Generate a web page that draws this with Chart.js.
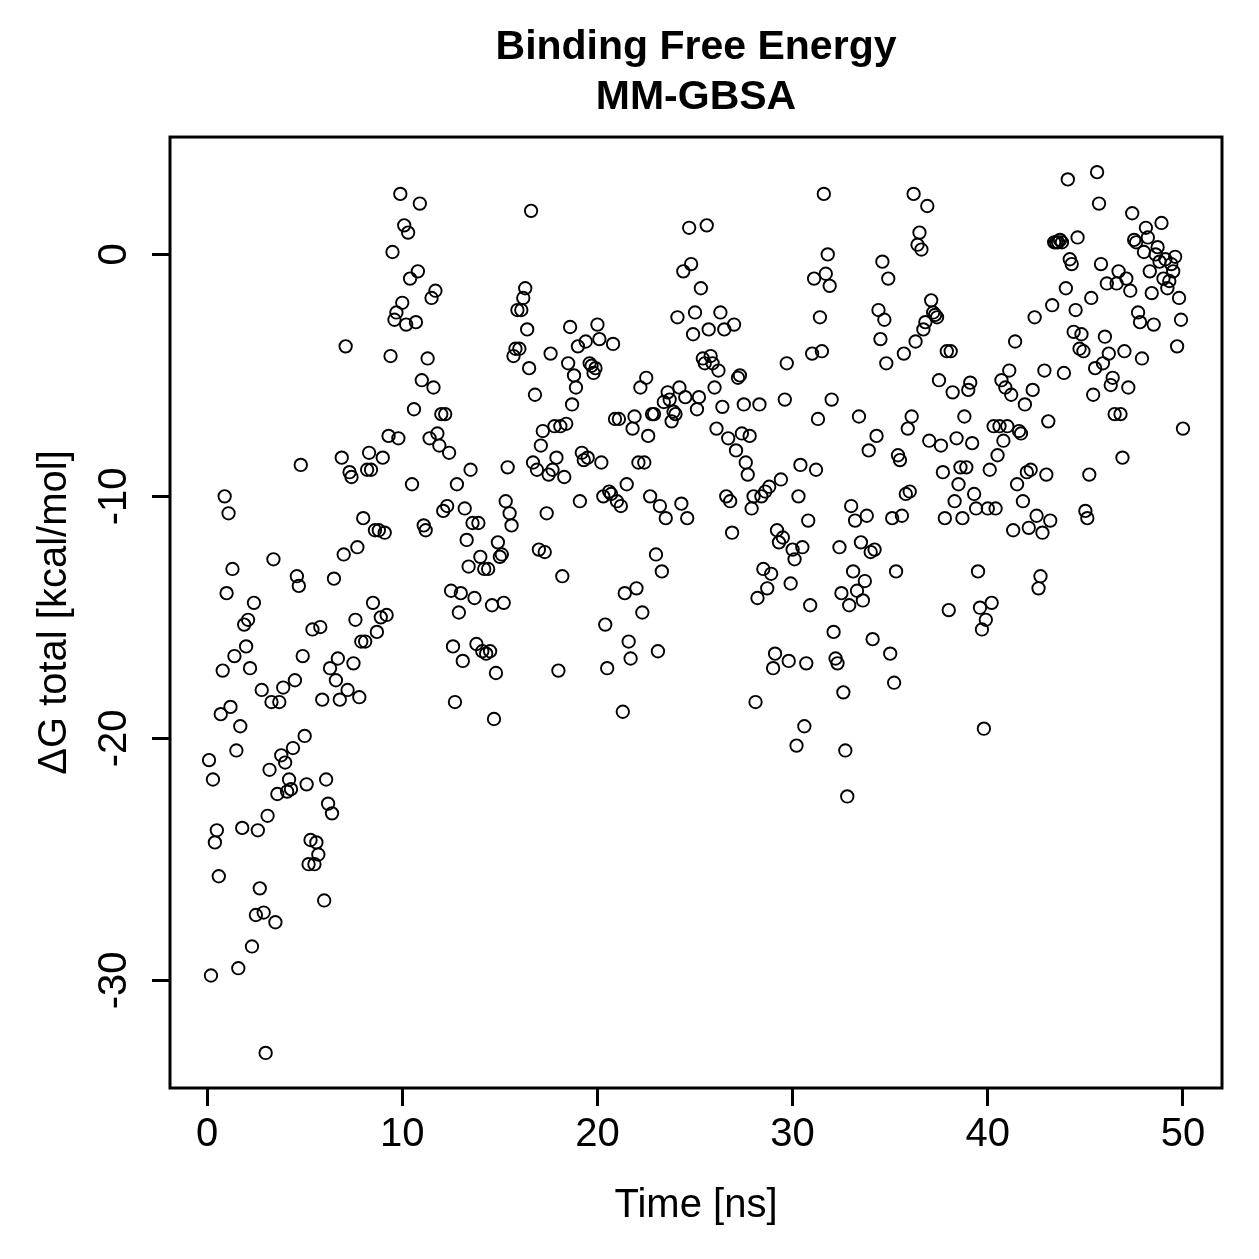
<!DOCTYPE html>
<html>
<head>
<meta charset="utf-8">
<script src="https://cdn.jsdelivr.net/npm/chart.js@4.4.1/dist/chart.umd.min.js"></script>
<style>
  html, body { margin: 0; padding: 0; background: #ffffff; }
  canvas { display: block; }
</style>
</head>
<body>
<canvas id="c" width="1259" height="1259" style="width:1259px;height:1259px"></canvas>
<script>
// ---- data ----
const titleLines = ['Binding Free Energy', 'MM-GBSA'];
const xAxisTitle = 'Time [ns]';
const yAxisTitle = '\u0394G total [kcal/mol]';
const xTicks = [0, 10, 20, 30, 40, 50];
const yTicks = [-30, -20, -10, 0];
const xLimits = [-1.9, 52];
const yLimits = [-34.45, 4.85];

const timeNs = [
0.1,0.2,0.3,0.4,0.5,0.6,0.7,0.8,0.9,1.0,
1.1,1.2,1.3,1.4,1.5,1.6,1.7,1.8,1.9,2.0,
2.1,2.2,2.3,2.4,2.5,2.6,2.7,2.8,2.9,3.0,
3.1,3.2,3.3,3.4,3.5,3.6,3.7,3.8,3.9,4.0,
4.1,4.2,4.3,4.4,4.5,4.6,4.7,4.8,4.9,5.0,
5.1,5.2,5.3,5.4,5.5,5.6,5.7,5.8,5.9,6.0,
6.1,6.2,6.3,6.4,6.5,6.6,6.7,6.8,6.9,7.0,
7.1,7.2,7.3,7.4,7.5,7.6,7.7,7.8,7.9,8.0,
8.1,8.2,8.3,8.4,8.5,8.6,8.7,8.8,8.9,9.0,
9.1,9.2,9.3,9.4,9.5,9.6,9.7,9.8,9.9,10.0,
10.1,10.2,10.3,10.4,10.5,10.6,10.7,10.8,10.9,11.0,
11.1,11.2,11.3,11.4,11.5,11.6,11.7,11.8,11.9,12.0,
12.1,12.2,12.3,12.4,12.5,12.6,12.7,12.8,12.9,13.0,
13.1,13.2,13.3,13.4,13.5,13.6,13.7,13.8,13.9,14.0,
14.1,14.2,14.3,14.4,14.5,14.6,14.7,14.8,14.9,15.0,
15.1,15.2,15.3,15.4,15.5,15.6,15.7,15.8,15.9,16.0,
16.1,16.2,16.3,16.4,16.5,16.6,16.7,16.8,16.9,17.0,
17.1,17.2,17.3,17.4,17.5,17.6,17.7,17.8,17.9,18.0,
18.1,18.2,18.3,18.4,18.5,18.6,18.7,18.8,18.9,19.0,
19.1,19.2,19.3,19.4,19.5,19.6,19.7,19.8,19.9,20.0,
20.1,20.2,20.3,20.4,20.5,20.6,20.7,20.8,20.9,21.0,
21.1,21.2,21.3,21.4,21.5,21.6,21.7,21.8,21.9,22.0,
22.1,22.2,22.3,22.4,22.5,22.6,22.7,22.8,22.9,23.0,
23.1,23.2,23.3,23.4,23.5,23.6,23.7,23.8,23.9,24.0,
24.1,24.2,24.3,24.4,24.5,24.6,24.7,24.8,24.9,25.0,
25.1,25.2,25.3,25.4,25.5,25.6,25.7,25.8,25.9,26.0,
26.1,26.2,26.3,26.4,26.5,26.6,26.7,26.8,26.9,27.0,
27.1,27.2,27.3,27.4,27.5,27.6,27.7,27.8,27.9,28.0,
28.1,28.2,28.3,28.4,28.5,28.6,28.7,28.8,28.9,29.0,
29.1,29.2,29.3,29.4,29.5,29.6,29.7,29.8,29.9,30.0,
30.1,30.2,30.3,30.4,30.5,30.6,30.7,30.8,30.9,31.0,
31.1,31.2,31.3,31.4,31.5,31.6,31.7,31.8,31.9,32.0,
32.1,32.2,32.3,32.4,32.5,32.6,32.7,32.8,32.9,33.0,
33.1,33.2,33.3,33.4,33.5,33.6,33.7,33.8,33.9,34.0,
34.1,34.2,34.3,34.4,34.5,34.6,34.7,34.8,34.9,35.0,
35.1,35.2,35.3,35.4,35.5,35.6,35.7,35.8,35.9,36.0,
36.1,36.2,36.3,36.4,36.5,36.6,36.7,36.8,36.9,37.0,
37.1,37.2,37.3,37.4,37.5,37.6,37.7,37.8,37.9,38.0,
38.1,38.2,38.3,38.4,38.5,38.6,38.7,38.8,38.9,39.0,
39.1,39.2,39.3,39.4,39.5,39.6,39.7,39.8,39.9,40.0,
40.1,40.2,40.3,40.4,40.5,40.6,40.7,40.8,40.9,41.0,
41.1,41.2,41.3,41.4,41.5,41.6,41.7,41.8,41.9,42.0,
42.1,42.2,42.3,42.4,42.5,42.6,42.7,42.8,42.9,43.0,
43.1,43.2,43.3,43.4,43.5,43.6,43.7,43.8,43.9,44.0,
44.1,44.2,44.3,44.4,44.5,44.6,44.7,44.8,44.9,45.0,
45.1,45.2,45.3,45.4,45.5,45.6,45.7,45.8,45.9,46.0,
46.1,46.2,46.3,46.4,46.5,46.6,46.7,46.8,46.9,47.0,
47.1,47.2,47.3,47.4,47.5,47.6,47.7,47.8,47.9,48.0,
48.1,48.2,48.3,48.4,48.5,48.6,48.7,48.8,48.9,49.0,
49.1,49.2,49.3,49.4,49.5,49.6,49.7,49.8,49.9,50.0
];

const deltaG = [
-20.9,-29.8,-21.7,-24.3,-23.8,-25.7,-19.0,-17.2,-10.0,-14.0,
-10.7,-18.7,-13.0,-16.6,-20.5,-29.5,-19.5,-23.7,-15.3,-16.2,
-15.1,-17.1,-28.6,-14.4,-27.3,-23.8,-26.2,-18.0,-27.2,-33.0,
-23.2,-21.3,-18.5,-12.6,-27.6,-22.3,-18.5,-20.7,-17.9,-21.0,
-22.2,-21.7,-22.1,-20.4,-17.6,-13.3,-13.7,-8.7,-16.6,-19.9,
-21.9,-25.2,-24.2,-15.5,-25.2,-24.3,-24.8,-15.4,-18.4,-26.7,
-21.7,-22.7,-17.1,-23.1,-13.4,-17.6,-16.7,-18.4,-8.4,-12.4,
-3.8,-18.0,-9.0,-9.2,-16.9,-15.1,-12.1,-18.3,-16.0,-10.9,
-16.0,-8.9,-8.2,-8.9,-14.4,-11.4,-15.6,-11.4,-15.0,-8.4,
-11.5,-14.9,-7.5,-4.2,0.1,-2.7,-2.4,-7.6,2.5,-2.0,
1.2,-2.9,0.9,-1.0,-9.5,-6.4,-2.8,-0.7,2.1,-5.2,
-11.2,-11.4,-4.3,-7.6,-1.8,-5.5,-1.5,-7.4,-7.9,-6.6,
-10.6,-6.6,-10.4,-8.2,-13.9,-16.2,-18.5,-9.5,-14.8,-14.0,
-16.8,-10.5,-11.8,-12.9,-8.9,-11.1,-14.2,-16.1,-11.1,-12.5,
-16.4,-13.0,-16.5,-13.0,-16.4,-14.5,-19.2,-17.3,-11.9,-12.5,
-12.4,-14.4,-10.2,-8.8,-10.7,-11.2,-4.2,-3.9,-2.3,-3.9,-2.3,
-1.8,-1.4,-3.1,-4.7,1.8,-8.6,-5.8,-8.9,-12.2,-7.9,
-7.3,-12.3,-10.7,-9.1,-4.1,-8.9,-7.1,-8.4,-17.2,-7.1,
-13.3,-9.2,-7.0,-4.5,-3.0,-6.2,-5.0,-5.5,-3.8,-10.2,
-8.2,-8.5,-3.6,-8.4,-4.5,-4.6,-4.9,-4.7,-2.9,-3.5,-8.6,
-10.0,-15.3,-17.1,-9.8,-9.9,-3.7,-6.8,-10.2,-6.8,-10.4,
-18.9,-14.0,-9.5,-16.0,-16.7,-7.2,-6.7,-13.8,-8.6,-5.5,
-14.8,-8.6,-5.1,-7.5,-10.0,-6.6,-6.6,-12.4,-16.4,-10.4,
-13.1,-6.1,-10.9,-5.7,-6.0,-6.9,-6.5,-6.6,-2.6,-5.5,
-10.3,-0.7,-5.9,-10.9,1.1,-0.4,-3.3,-2.4,-6.4,-5.9,
-1.4,-4.3,-4.5,1.2,-3.1,-4.2,-4.5,-5.5,-7.2,-4.8,
-2.4,-6.3,-3.1,-10.0,-7.6,-10.2,-11.5,-2.9,-8.1,-5.1,
-5.0,-7.4,-6.2,-8.6,-9.1,-7.5,-10.5,-10.0,-18.5,-14.2,-6.2,
-10.0,-13.0,-9.8,-13.8,-9.6,-13.2,-17.1,-16.5,-11.4,-11.9,
-9.3,-11.7,-6.0,-4.5,-16.8,-13.6,-12.2,-12.6,-20.3,-10.0,
-8.7,-12.1,-19.5,-16.9,-11.0,-14.5,-4.1,-1.0,-8.9,-6.8,
-2.6,-4.0,2.5,-0.8,0.0,-1.3,-6.0,-15.6,-16.7,-16.9,
-12.1,-14.0,-18.1,-20.5,-22.4,-14.5,-10.4,-13.1,-11.0,-13.9,
-6.7,-11.9,-14.3,-13.5,-10.8,-8.1,-12.3,-15.9,-12.2,-7.5,
-2.3,-3.5,-0.3,-2.7,-4.5,-1.0,-16.5,-10.9,-17.7,-13.1,
-8.3,-8.5,-10.8,-4.1,-9.9,-7.2,-9.8,-6.7,2.5,-3.6,
0.4,0.9,0.2,-3.1,-2.8,2.0,-7.7,-1.9,-2.4,-2.5,
-2.6,-5.2,-7.9,-9.0,-10.9,-4.0,-14.7,-4.0,-5.7,-10.2,-7.6,
-9.5,-8.8,-10.9,-6.7,-8.8,-5.6,-5.3,-7.8,-9.9,-10.5,
-13.1,-14.6,-15.5,-19.6,-15.1,-10.5,-8.9,-14.4,-7.1,-10.5,
-8.3,-7.1,-5.2,-7.7,-5.5,-7.1,-4.8,-5.8,-11.4,-3.6,
-9.5,-7.3,-7.4,-10.2,-6.2,-9.0,-11.3,-8.9,-5.6,-2.6,
-10.8,-13.8,-13.3,-11.5,-4.8,-9.1,-6.9,-11.0,-2.1,0.5,
0.5,0.5,0.6,0.5,-4.9,-1.4,3.1,-0.2,-0.4,-3.2,-2.3,
0.7,-3.9,-3.3,-4.0,-10.6,-10.9,-9.1,-1.8,-5.8,-4.7,
3.4,2.1,-0.4,-4.5,-3.4,-1.2,-4.1,-5.4,-5.1,-6.6,
-1.2,-0.7,-6.6,-8.4,-4.0,-1.0,-5.5,-1.5,1.7,0.6,
0.5,-2.4,-2.8,-4.3,0.1,1.1,0.7,-0.7,-1.6,-2.9,0.0,
0.3,-0.3,1.3,-1.0,-0.2,-1.4,-1.1,-0.4,-0.7,-0.1,
-3.8,-1.8,-2.7,-7.2
];

// ---- chart ----
const FONT = '"Liberation Sans", Arial, Helvetica, sans-serif';
const n = Math.min(timeNs.length, deltaG.length);
const points = [];
for (let i = 0; i < n; i++) points.push({ x: timeNs[i], y: deltaG[i] });

const boxPlugin = {
  id: 'rbox',
  afterDatasetsDraw(chart) {
    const { ctx, chartArea: a } = chart;
    ctx.save();
    ctx.strokeStyle = '#000';
    ctx.lineWidth = 3;
    ctx.strokeRect(a.left, a.top, a.right - a.left, a.bottom - a.top);
    ctx.restore();
  }
};

new Chart(document.getElementById('c'), {
  type: 'scatter',
  data: {
    datasets: [{
      data: points,
      pointStyle: 'circle',
      pointRadius: 6.2,
      pointHoverRadius: 6.2,
      pointBorderWidth: 1.9,
      pointBorderColor: '#000',
      pointBackgroundColor: 'rgba(0,0,0,0)'
    }]
  },
  options: {
    responsive: false,
    animation: false,
    devicePixelRatio: 1,
    events: [],
    layout: { padding: { left: 0, right: 37, top: 0, bottom: 0 } },
    plugins: {
      legend: { display: false },
      tooltip: { enabled: false },
      title: {
        display: true,
        fullSize: false,
        text: titleLines,
        color: '#000',
        font: { family: FONT, size: 41, weight: 'bold', lineHeight: 1.22 },
        padding: { top: 23, bottom: 14 }
      }
    },
    scales: {
      x: {
        type: 'linear',
        min: xLimits[0],
        max: xLimits[1],
        afterBuildTicks: (s) => { s.ticks = xTicks.map(v => ({ value: v })); },
        afterFit: (s) => { s.height = 1259 - 1088; },
        border: { display: false },
        grid: { drawOnChartArea: false, drawTicks: true, tickLength: 18, tickWidth: 3, tickColor: '#000', color: '#000', lineWidth: 3 },
        ticks: { color: '#000', font: { family: FONT, size: 40, lineHeight: 1.2 }, padding: 5, maxRotation: 0, minRotation: 0, autoSkip: false },
        title: { display: true, text: xAxisTitle, color: '#000', font: { family: FONT, size: 40, lineHeight: 1.2 }, padding: { top: 0, bottom: 29 } }
      },
      y: {
        type: 'linear',
        min: yLimits[0],
        max: yLimits[1],
        afterBuildTicks: (s) => { s.ticks = yTicks.map(v => ({ value: v })); },
        afterFit: (s) => { s.width = 170; },
        border: { display: false },
        grid: { drawOnChartArea: false, drawTicks: true, tickLength: 18, tickWidth: 3, tickColor: '#000', color: '#000', lineWidth: 3 },
        ticks: { color: '#000', font: { family: FONT, size: 40, lineHeight: 1.2 }, padding: 8, minRotation: 90, maxRotation: 90, crossAlign: 'center', autoSkip: false },
        title: { display: true, text: yAxisTitle, color: '#000', font: { family: FONT, size: 40, lineHeight: 1.2 }, padding: { top: 31, bottom: 0 } }
      }
    }
  },
  plugins: [boxPlugin]
});
</script>
</body>
</html>
